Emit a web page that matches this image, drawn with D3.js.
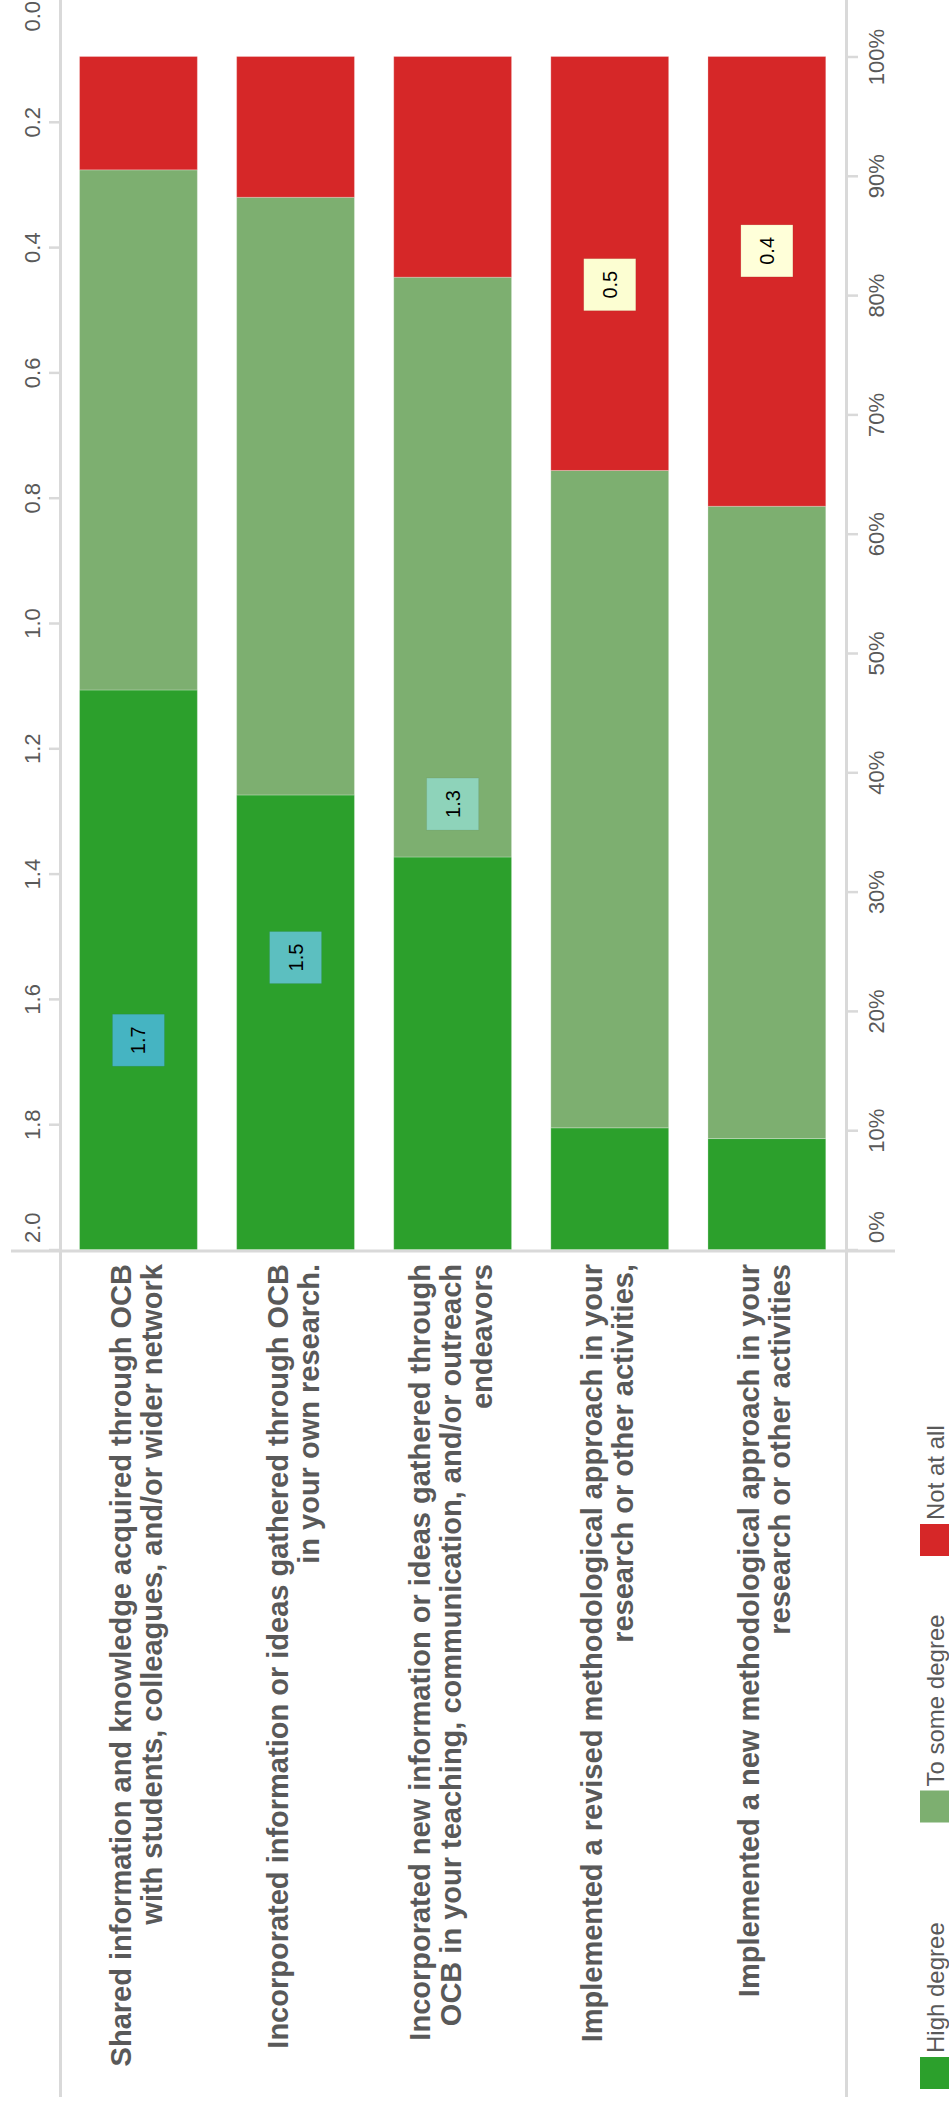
<!DOCTYPE html>
<html>
<head>
<meta charset="utf-8">
<script src="https://cdn.jsdelivr.net/npm/d3@7"></script>
<style>
  html, body { margin: 0; padding: 0; background: #ffffff; }
  svg { display: block; }
  text { font-family: "Liberation Sans", Arial, sans-serif; }
</style>
</head>
<body>
<div id="chart"></div>
<script>
// ---------------- data ----------------
const categoryLines = [
  ["Shared information and knowledge acquired through OCB", "with students, colleagues, and/or wider network"],
  ["Incorporated information or ideas gathered through OCB", "in your own research."],
  ["Incorporated new information or ideas gathered through", "OCB in your teaching, communication, and/or outreach", "endeavors"],
  ["Implemented a revised methodological approach in your", "research or other activities,"],
  ["Implemented a new methodological approach in your", "research or other activities"]
];
const categories = categoryLines.map(l => l.join(" "));
const seriesNames = ["High degree", "To some degree", "Not at all"];
const seriesColors = ["#2ca02c", "#7daf70", "#d62728"];
const highDegree   = [46.9, 38.1, 32.9, 10.2, 9.3];
const someDegree   = [43.6, 50.1, 48.6, 55.1, 53.0];
const notAtAll     = [9.5, 11.8, 18.5, 34.7, 37.7];
const meanScores   = [1.666, 1.534, 1.289, 0.460, 0.406];
const meanTicks    = [0, 0.2, 0.4, 0.6, 0.8, 1.0, 1.2, 1.4, 1.6, 1.8, 2.0];
const pctTicks     = [0, 10, 20, 30, 40, 50, 60, 70, 80, 90, 100];

// ---------------- layout ----------------
const W = 949, H = 2112;
const svg = d3.select("#chart").append("svg").attr("width", W).attr("height", H);
svg.append("rect").attr("width", W).attr("height", H).attr("fill", "#fff");

const x = d3.scaleBand().domain(categories).range([59.9, 845.4]).paddingInner(0.25).paddingOuter(0.125);
const yPct = d3.scaleLinear().domain([0, 100]).range([1249.5, 56.5]);
const yMean = d3.scaleLinear().domain([0, 2]).range([-3.5, 1249.5]);
const color = d3.scaleOrdinal().domain(seriesNames).range(seriesColors);
const minM = d3.min(meanScores), maxM = d3.max(meanScores);
const labelColor = d3.scaleSequential(d3.interpolateYlGnBu).domain([minM, minM + 2 * (maxM - minM)]);

const gridColor = "#d9d9d9";
const textGrey = "#595959";

// frame lines
svg.append("line").attr("x1", 60.5).attr("x2", 60.5).attr("y1", 0).attr("y2", 2097)
  .attr("stroke", gridColor).attr("stroke-width", 3);
svg.append("line").attr("x1", 846.5).attr("x2", 846.5).attr("y1", 0).attr("y2", 2097)
  .attr("stroke", gridColor).attr("stroke-width", 3);
svg.append("line").attr("x1", 11).attr("x2", 895).attr("y1", 1251).attr("y2", 1251)
  .attr("stroke", gridColor).attr("stroke-width", 3);

// stacked bars
const rows = categories.map((c, i) => ({
  cat: c, "High degree": highDegree[i], "To some degree": someDegree[i], "Not at all": notAtAll[i]
}));
const stacked = d3.stack().keys(seriesNames)(rows);
svg.append("g").selectAll("g").data(stacked).join("g")
  .attr("fill", d => color(d.key))
  .selectAll("rect").data(d => d).join("rect")
  .attr("x", d => x(d.data.cat))
  .attr("width", x.bandwidth())
  .attr("y", d => yPct(d[1]))
  .attr("height", d => yPct(d[0]) - yPct(d[1]))
  .attr("stroke", "#ffffff").attr("stroke-opacity", 0.25).attr("stroke-width", 1);

// helper to clamp rotated tick labels along y
function placeTickLabels(g, cx, minTop, maxBottom) {
  g.selectAll(".tick text").each(function () {
    const t = d3.select(this);
    const tick = d3.select(this.parentNode);
    const tr = tick.attr("transform");
    const ty = +/translate\([^,]+,([^)]+)\)/.exec(tr)[1];
    const len = this.getComputedTextLength();
    let c = ty;
    if (c + len / 2 > maxBottom) c = maxBottom - len / 2;
    if (c - len / 2 < minTop) c = minTop + len / 2;
    t.attr("x", null).attr("y", null).attr("dy", "0.35em")
      .attr("text-anchor", "middle")
      .attr("transform", `translate(${cx},${c - ty}) rotate(-90)`);
  });
}

// left axis (mean score)
const gLeft = svg.append("g").attr("transform", "translate(59,0)")
  .call(d3.axisLeft(yMean).tickValues(meanTicks).tickFormat(d3.format(".1f")).tickSize(10));
gLeft.select(".domain").remove();
gLeft.selectAll(".tick line").attr("stroke", gridColor).attr("stroke-width", 2.5);
gLeft.selectAll(".tick text").attr("font-size", 22).attr("fill", textGrey);
placeTickLabels(gLeft, -26.5, 1, 1243);

// right axis (percent)
const gRight = svg.append("g").attr("transform", "translate(848,0)")
  .call(d3.axisRight(yPct).tickValues(pctTicks).tickFormat(d => d + "%").tickSize(10));
gRight.select(".domain").remove();
gRight.selectAll(".tick line").attr("stroke", gridColor).attr("stroke-width", 2.5);
gRight.selectAll(".tick text").attr("font-size", 22).attr("fill", textGrey);
placeTickLabels(gRight, 28, 0, 1243);

// mean score label boxes
const box = 52;
const lbl = svg.append("g").selectAll("g").data(categories).join("g")
  .attr("transform", (c, i) => `translate(${x(c) + x.bandwidth() / 2},${yMean(meanScores[i])})`);
lbl.append("rect")
  .attr("x", -box / 2).attr("y", -box / 2).attr("width", box).attr("height", box)
  .attr("fill", (c, i) => labelColor(meanScores[i]))
  .attr("stroke", "#000").attr("stroke-opacity", 0.06).attr("stroke-width", 1);
lbl.append("text")
  .attr("transform", "rotate(-90)")
  .attr("text-anchor", "middle").attr("dy", "0.35em")
  .attr("font-size", 20).attr("fill", "#000")
  .text((c, i) => d3.format(".1f")(meanScores[i]));

// category labels (rotated, right-aligned at the frame)
const lineH = 31;
categoryLines.forEach((lines, i) => {
  const cx = x(categories[i]) + x.bandwidth() / 2;
  const n = lines.length;
  lines.forEach((ln, j) => {
    const bx = cx + (j - (n - 1) / 2) * lineH + 8;
    svg.append("text")
      .attr("transform", `translate(${bx},1264) rotate(-90)`)
      .attr("text-anchor", "end")
      .attr("font-size", 29).attr("font-weight", "bold").attr("fill", textGrey)
      .text(ln);
  });
});

// legend
const leg = svg.append("g").selectAll("g").data(seriesNames).join("g")
  .attr("transform", (d, i) => `translate(920,${2089 - i * 266.5})`);
leg.append("rect").attr("x", 0).attr("y", -32).attr("width", 32).attr("height", 32)
  .attr("fill", d => color(d));
leg.append("text")
  .attr("transform", "translate(24,-36) rotate(-90)")
  .attr("text-anchor", "start")
  .attr("font-size", 24).attr("fill", textGrey)
  .text(d => d);
</script>
</body>
</html>
